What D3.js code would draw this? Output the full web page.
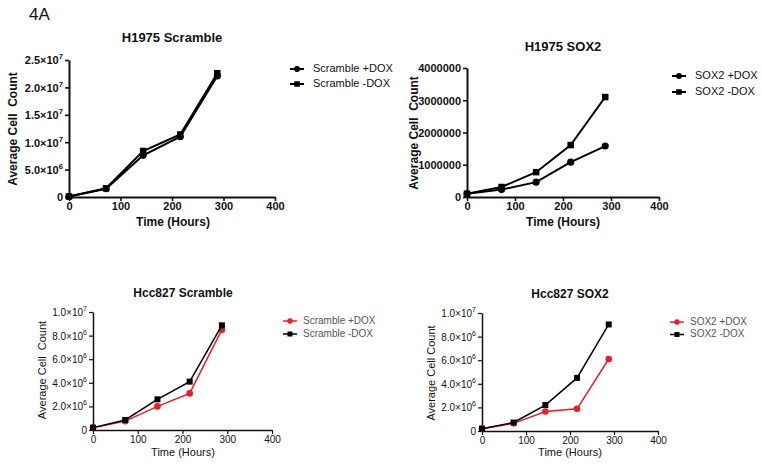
<!DOCTYPE html>
<html><head><meta charset="utf-8">
<script src="https://cdn.jsdelivr.net/npm/d3@7"></script>
<style>body{margin:0;background:#fff}svg{display:block}text{font-family:Arial,"Liberation Sans",sans-serif}</style>
</head><body><svg id="c" width="762" height="466"></svg>
<script>
const hours = [0, 72, 144, 216, 288];
const xTicks = [0, 100, 200, 300, 400];
// H1975 Scramble
const h1975ScrPlus = [100000, 1500000, 7600000, 11000000, 22100000];
const h1975ScrMinus = [100000, 1600000, 8400000, 11400000, 22600000];
const h1975ScrTicks = [0, 5e6, 1e7, 1.5e7, 2e7, 2.5e7];
const h1975ScrTickLabels = [["0",""],["5.0\u00d710","6"],["1.0\u00d710","7"],["1.5\u00d710","7"],["2.0\u00d710","7"],["2.5\u00d710","7"]];
// H1975 SOX2
const h1975SoxPlus = [100000, 230000, 460000, 1080000, 1580000];
const h1975SoxMinus = [100000, 310000, 770000, 1610000, 3100000];
const h1975SoxTicks = [0, 1000000, 2000000, 3000000, 4000000];
const h1975SoxTickLabels = [["0",""],["1000000",""],["2000000",""],["3000000",""],["4000000",""]];
// Hcc827 Scramble
const hccScrPlus = [200000, 750000, 2000000, 3100000, 8500000];
const hccScrMinus = [200000, 850000, 2600000, 4100000, 8870000];
// Hcc827 SOX2
const hccSoxPlus = [200000, 650000, 1650000, 1880000, 6100000];
const hccSoxMinus = [200000, 720000, 2200000, 4500000, 9030000];
const hccTicks = [0, 2e6, 4e6, 6e6, 8e6, 1e7];
const hccTickLabels = [["0",""],["2.0\u00d710","6"],["4.0\u00d710","6"],["6.0\u00d710","6"],["8.0\u00d710","6"],["1.0\u00d710","7"]];

const svg = d3.select("#c");
svg.append("text").attr("x",29).attr("y",20).attr("font-size",17).attr("fill","#111").text("4A");

const RED = "#ee1c24";

function panel(o){
  const g = svg.append("g");
  const x = d3.scaleLinear().domain([0,400]).range(o.xr);
  const y = d3.scaleLinear().domain([0,o.ymax]).range(o.yr);
  const bold = o.bold;
  const tickFs = o.tickFs, fw = bold ? "bold" : "normal";
  const xa = g.append("g").attr("transform",`translate(0,${o.yr[0]})`)
    .call(d3.axisBottom(x).tickValues(xTicks).tickSize(4).tickSizeOuter(0).tickFormat(d3.format("d")));
  xa.select(".domain").attr("stroke","#111").attr("stroke-width",o.aw);
  xa.selectAll(".tick line").attr("stroke","#111").attr("stroke-width",o.aw*0.8);
  xa.selectAll(".tick text").attr("font-size",tickFs).attr("font-weight",fw).attr("fill","#111")
    .attr("font-family","Arial,'Liberation Sans',sans-serif").attr("dy","0.75em").attr("y",5);
  const ya = g.append("g").attr("transform",`translate(${o.xr[0]},0)`)
    .call(d3.axisLeft(y).tickValues(o.yt).tickSize(4).tickSizeOuter(0).tickFormat(()=>""));
  ya.select(".domain").attr("stroke","#111").attr("stroke-width",o.aw);
  ya.selectAll(".tick line").attr("stroke","#111").attr("stroke-width",o.aw*0.8);
  ya.selectAll(".tick").each(function(d,i){
    const t = d3.select(this).select("text").text(null)
      .attr("font-size",tickFs).attr("font-weight",fw).attr("fill","#111")
      .attr("font-family","Arial,'Liberation Sans',sans-serif").attr("x",-6).attr("dy","0.35em");
    const lab = o.yl[i];
    t.append("tspan").text(lab[0]);
    if(lab[1]) t.append("tspan").attr("dy",-5).attr("font-size",tickFs*0.7).text(lab[1]);
  });
  g.append("text").attr("x",o.title[0]).attr("y",o.title[1]).attr("text-anchor","middle")
    .attr("dominant-baseline","middle").attr("font-weight","bold").attr("font-size",o.titleFs).attr("fill","#111").text(o.titleText);
  g.append("text").attr("x",o.xl[0]).attr("y",o.xl[1]).attr("text-anchor","middle")
    .attr("dominant-baseline","middle").attr("font-weight",fw).attr("font-size",o.labFs).attr("fill","#111").text("Time (Hours)");
  g.append("text").attr("transform",`translate(${o.ylab[0]},${o.ylab[1]}) rotate(-90)`).attr("text-anchor","middle")
    .attr("dominant-baseline","middle").attr("font-weight",fw).attr("font-size",o.labFs).attr("fill","#111")
    .attr("xml:space","preserve").text(o.ylabText);
  const line = d3.line().x((d,i)=>x(hours[i])).y(d=>y(d));
  o.series.forEach(s=>{
    g.append("path").datum(s.v).attr("d",line).attr("fill","none").attr("stroke",s.c).attr("stroke-width",o.lw);
    s.v.forEach((v,i)=>{
      if(s.m==="c") g.append("circle").attr("cx",x(hours[i])).attr("cy",y(v)).attr("r",o.ms/2+0.3).attr("fill",s.c);
      else g.append("rect").attr("x",x(hours[i])-o.ms/2).attr("y",y(v)-o.ms/2).attr("width",o.ms).attr("height",o.ms).attr("fill",s.c);
    });
  });
  o.series.forEach((s,i)=>{
    const ly = o.leg[1] + i*o.legDy, lx = o.leg[0];
    g.append("line").attr("x1",lx-7).attr("x2",lx+7).attr("y1",ly).attr("y2",ly).attr("stroke",s.c).attr("stroke-width",o.lw);
    if(s.m==="c") g.append("circle").attr("cx",lx).attr("cy",ly).attr("r",o.ms/2-0.3).attr("fill",s.c);
    else g.append("rect").attr("x",lx-o.ms/2+0.5).attr("y",ly-o.ms/2+0.5).attr("width",o.ms-1).attr("height",o.ms-1).attr("fill",s.c);
    g.append("text").attr("x",o.legText).attr("y",ly).attr("dominant-baseline","middle")
      .attr("font-size",o.legFs).attr("fill",o.legColor).text(s.name);
  });
}

panel({xr:[69,275], yr:[197,60], ymax:2.5e7, yt:h1975ScrTicks, yl:h1975ScrTickLabels, bold:true,
  tickFs:11, labFs:12, titleFs:13, aw:2, lw:2, ms:6.5,
  title:[172,39], titleText:"H1975 Scramble", xl:[173,223], ylab:[14,129], ylabText:"Average Cell  Count",
  series:[{v:h1975ScrPlus,c:"#000",m:"c",name:"Scramble +DOX"},{v:h1975ScrMinus,c:"#000",m:"s",name:"Scramble -DOX"}],
  leg:[297,69], legDy:15, legText:313, legFs:11, legColor:"#111"});

panel({xr:[467,659], yr:[197,68], ymax:4e6, yt:h1975SoxTicks, yl:h1975SoxTickLabels, bold:true,
  tickFs:11, labFs:12, titleFs:13, aw:2, lw:2, ms:6.5,
  title:[563,48], titleText:"H1975 SOX2", xl:[563,223], ylab:[415,133], ylabText:"Average Cell  Count",
  series:[{v:h1975SoxPlus,c:"#000",m:"c",name:"SOX2 +DOX"},{v:h1975SoxMinus,c:"#000",m:"s",name:"SOX2 -DOX"}],
  leg:[679,76], legDy:16, legText:695, legFs:11, legColor:"#111"});

panel({xr:[93,272], yr:[430,312], ymax:1e7, yt:hccTicks, yl:hccTickLabels, bold:false,
  tickFs:10, labFs:11, titleFs:12, aw:1.5, lw:1.5, ms:6,
  title:[183,294], titleText:"Hcc827 Scramble", xl:[183,453], ylab:[43,370], ylabText:"Average Cell  Count",
  series:[{v:hccScrPlus,c:RED,m:"c",name:"Scramble +DOX"},{v:hccScrMinus,c:"#000",m:"s",name:"Scramble -DOX"}],
  leg:[290,321], legDy:13, legText:303, legFs:10, legColor:"#555"});

panel({xr:[482,658], yr:[431,313], ymax:1e7, yt:hccTicks, yl:hccTickLabels, bold:false,
  tickFs:10, labFs:11, titleFs:12, aw:1.5, lw:1.5, ms:6,
  title:[570,295], titleText:"Hcc827 SOX2", xl:[570,453], ylab:[432,373], ylabText:"Average Cell Count",
  series:[{v:hccSoxPlus,c:RED,m:"c",name:"SOX2 +DOX"},{v:hccSoxMinus,c:"#000",m:"s",name:"SOX2 -DOX"}],
  leg:[677,322], legDy:12.5, legText:690, legFs:10, legColor:"#555"});
</script></body></html>
